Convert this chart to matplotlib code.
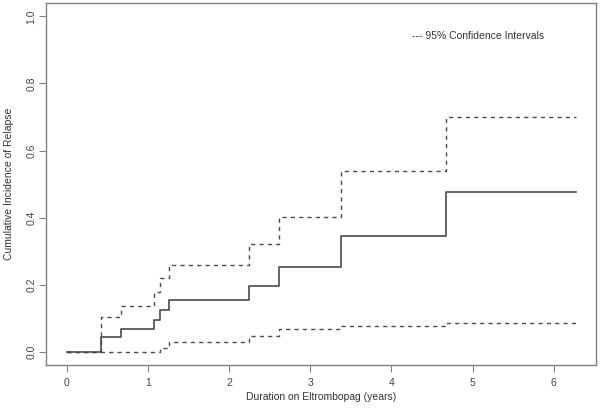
import matplotlib
matplotlib.use("Agg")
import matplotlib.pyplot as plt

plt.rcParams['font.family'] = ['Liberation Sans', 'DejaVu Sans']

# Step times (years) and cumulative incidence values
times = [0, 0.42, 0.665, 1.07, 1.155, 1.26, 2.245, 2.615, 3.378, 4.675, 6.27]
cif = [0, 0.045, 0.067, 0.094, 0.124, 0.154, 0.196, 0.253, 0.345, 0.476, 0.476]
upper = [0, 0.102, 0.136, 0.179, 0.22, 0.26, 0.32, 0.402, 0.538, 0.70, 0.70]
lower = [0, 0, 0, 0, 0.012, 0.03, 0.048, 0.068, 0.076, 0.086, 0.086]

xticks = [0, 1, 2, 3, 4, 5, 6]
yticks = [0.0, 0.2, 0.4, 0.6, 0.8, 1.0]
xlabel = "Duration on Eltrombopag (years)"
ylabel = "Cumulative Incidence of Relapse"
legend_text = "--- 95% Confidence Intervals"

fig = plt.figure(figsize=(6.0, 4.13), dpi=100)
ax = fig.add_axes([0.0767, 0.116, 0.9166, 0.8767])

line_col = '#4a4a4a'
ax.plot(times, cif, drawstyle='steps-post', color=line_col, lw=1.2)
ax.plot(times, upper, drawstyle='steps-post', color=line_col, lw=1.0,
        linestyle=(0, (3, 3)))
ax.plot(times, lower, drawstyle='steps-post', color=line_col, lw=1.0,
        linestyle=(0, (3, 3)))

ax.set_xlim(-0.255, 6.52)
ax.set_ylim(-0.04, 1.04)
ax.set_xticks(xticks)
ax.set_xticklabels([str(v) for v in xticks])
ax.set_yticks(yticks)
ax.set_yticklabels([f"{v:.1f}" for v in yticks], rotation=90, va='center')

frame_col = '#808080'
for s in ax.spines.values():
    s.set_color(frame_col)
    s.set_linewidth(1.0)
ax.tick_params(axis='both', direction='out', length=5, width=0.8,
               colors=frame_col, labelcolor='#444444', labelsize=7.5)
ax.tick_params(axis='x', pad=4)
ax.tick_params(axis='y', pad=2)

ax.set_xlabel(xlabel, fontsize=7.5, color='#333333')
ax.set_ylabel(ylabel, fontsize=7.5, color='#333333')
ax.xaxis.set_label_coords(0.5, -0.074)
ax.yaxis.set_label_coords(-0.058, 0.5)

ax.text(4.25, 0.943, legend_text, fontsize=7.5, color='#333333',
        ha='left', va='center')

fig.savefig("out.png", dpi=100)
